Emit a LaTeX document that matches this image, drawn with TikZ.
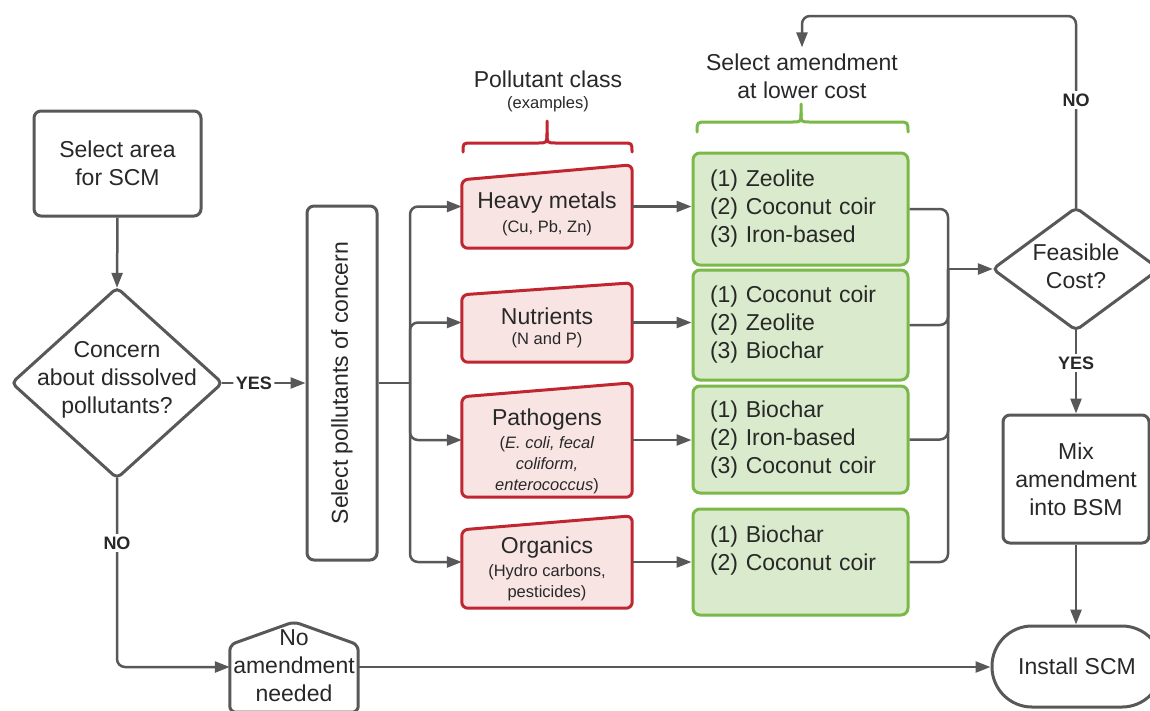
\documentclass[tikz,border=0pt]{standalone}
\usepackage{fontspec}
\setmainfont{Liberation Sans}
\usetikzlibrary{arrows.meta,calc}
\definecolor{lg}{RGB}{88,88,88}
\definecolor{tx}{RGB}{40,40,40}
\definecolor{rstroke}{RGB}{192,38,48}
\definecolor{rfill}{RGB}{249,228,228}
\definecolor{gstroke}{RGB}{122,184,72}
\definecolor{gfill}{RGB}{217,235,204}
\begin{document}
\begin{tikzpicture}[x=1pt,y=-1pt,
  big/.style={font=\fontsize{23}{28}\selectfont, text=tx, align=center, inner sep=0pt},
  small/.style={font=\fontsize{16.5}{21}\selectfont, text=tx, align=center, inner sep=0pt},
  lbl/.style={font=\bfseries\fontsize{18}{20}\selectfont, text=tx, fill=white, inner sep=2.5pt},
  graybox/.style={draw=lg, line width=3pt, rounded corners=7pt, fill=white, big},
  ghost/.style={draw=none, inner sep=0pt},
  grayshape/.style={draw=lg, line width=3pt, rounded corners=6pt, fill=white},
  redshape/.style={draw=rstroke, fill=rfill, line width=3pt, rounded corners=6pt},
  greenbox/.style={draw=gstroke, fill=gfill, line width=3pt, rounded corners=7pt,
    text width=181pt, align=left, inner xsep=17pt, inner ysep=0pt,
    font=\fontsize{23}{28}\selectfont, text=tx},
  conn/.style={draw=lg, line width=2.5pt, rounded corners=8pt},
  arr/.style={conn, -{Triangle[length=15pt,width=11pt]}},
  brace/.style={line width=3pt, line cap=round}
]
\useasboundingbox (0,0) rectangle (1150,710);
\fill[white] (0,0) rectangle (1150,710);
\clip (0,0) rectangle (1150,710);

% Select area
\node[graybox, minimum width=167pt, minimum height=105pt] (sa) at (117.5,163.5) {Select area\\for SCM};

% Diamond 1
\node[ghost, minimum width=210pt, minimum height=190pt] (d1) at (117,383) {};
\draw[grayshape, rounded corners=5pt] ($(d1.north)!0.5!(d1.east)$) -- (d1.east) -- (d1.south) -- (d1.west) -- (d1.north) -- cycle;
\node[big] (d1t) at (117,380) {Concern\\about dissolved\\pollutants?};

% Select pollutants
\node[graybox, minimum width=70pt, minimum height=354pt] (sp) at (342,383) {};
\node[big, rotate=90] (spt) at (342,383) {Select pollutants of concern};

% Pollutant class header
\node[big] (pc) at (548,79) {Pollutant class};
\node[small] (pcx) at (548,104) {(examples)};
\draw[brace, rstroke] (463,152) .. controls (463,143) .. (472,143) -- (538,143) .. controls (547,143) .. (547,133) -- (547,121);
\draw[brace, rstroke] (632,152) .. controls (632,143) .. (623,143) -- (556,143) .. controls (547,143) .. (547,133);

% Red shapes
\node[ghost, minimum width=170pt, minimum height=83pt] (hm) at (547,206.5) {};
\draw[redshape] (hm.south) -- (hm.south west) -- ([yshift=-15pt]hm.north west) -- (hm.north east) -- (hm.south east) -- cycle;
\node[big] (hmt) at (547,203) {Heavy metals};
\node[small] (hms) at (547,228) {(Cu, Pb, Zn)};

\node[ghost, minimum width=170pt, minimum height=79pt] (nu) at (547,322.5) {};
\draw[redshape] (nu.south) -- (nu.south west) -- ([yshift=-12pt]nu.north west) -- (nu.north east) -- (nu.south east) -- cycle;
\node[big] (nut) at (547,316) {Nutrients};
\node[small] (nus) at (547,340) {(N and P)};

\node[ghost, minimum width=170pt, minimum height=114pt] (pa) at (547,440) {};
\draw[redshape] (pa.south) -- (pa.south west) -- ([yshift=-14pt]pa.north west) -- (pa.north east) -- (pa.south east) -- cycle;
\node[big] (pat) at (547,420) {Pathogens};
\node[small] (pas) at (547,465) {(\textit{E. coli, fecal}\\\textit{coliform,}\\\textit{enterococcus})};

\node[ghost, minimum width=170pt, minimum height=92pt] (or) at (547,562) {};
\draw[redshape] (or.south) -- (or.south west) -- ([yshift=-14pt]or.north west) -- (or.north east) -- (or.south east) -- cycle;
\node[big] (ort) at (547,548) {Organics};
\node[small] (ors) at (547,583) {(Hydro carbons,\\pesticides)};

% Amendment header
\node[big] (selam) at (802,76) {Select amendment\\at lower cost};
\draw[brace, gstroke] (697,132) .. controls (697,122) .. (707,122) -- (792,122) .. controls (801,122) .. (801,113) -- (801,104);
\draw[brace, gstroke] (908,132) .. controls (908,122) .. (898,122) -- (810,122) .. controls (801,122) .. (801,113);

% Green boxes
\node[greenbox, minimum height=112pt] (g1) at (800.5,209) {(1) Zeolite\\(2) Coconut coir\\(3) Iron-based};
\node[greenbox, minimum height=110pt] (g2) at (800.5,325) {(1) Coconut coir\\(2) Zeolite\\(3) Biochar};
\node[greenbox, minimum height=107pt] (g3) at (800.5,439.5) {(1) Biochar\\(2) Iron-based\\(3) Coconut coir};
\node[greenbox, minimum height=106pt] (g4) at (800.5,562) {(1) Biochar\\(2) Coconut coir\\\mbox{}};

% Diamond 2
\node[ghost, minimum width=166pt, minimum height=122pt] (d2) at (1076,269) {};
\draw[grayshape, rounded corners=5pt] ($(d2.north)!0.5!(d2.east)$) -- (d2.east) -- (d2.south) -- (d2.west) -- (d2.north) -- cycle;
\node[big] (d2t) at (1076,266) {Feasible\\Cost?};

% Mix
\node[graybox, minimum width=146pt, minimum height=128pt] (mix) at (1076,479) {Mix\\amendment\\into BSM};

% Install SCM
\node[draw=lg, line width=3pt, rounded corners=40pt, minimum width=170pt, minimum height=81pt, fill=white, big] (inst) at (1077,666.5) {Install SCM};

% No amendment needed
\node[ghost, minimum width=128pt, minimum height=90pt] (noam) at (294,667) {};
\draw[grayshape] (noam.south) -- (noam.south west) -- ([yshift=-23pt]noam.north west) -- (noam.north) -- ([yshift=-23pt]noam.north east) -- (noam.south east) -- cycle;
\node[big] (noamt) at (294,666) {No\\amendment\\needed};

% Connectors
\draw[arr] (sa.south) -- (d1.north);
\draw[arr] (d1.east) -- (sp.west) node[lbl, pos=0.38] (yes1) {YES};
\coordinate (br) at (410,383);
\draw[conn] (sp.east) -- (br);
\draw[arr] (br) |- (hm.west);
\draw[arr] (br) |- (nu.west);
\draw[arr] (br) |- (pa.west);
\draw[arr] (br) |- (or.west);
\draw[arr] (hm.east) -- (hm.east -| g1.west);
\draw[arr] (nu.east) -- (nu.east -| g2.west);
\draw[arr] (pa.east) -- (pa.east -| g3.west);
\draw[arr] (or.east) -- (or.east -| g4.west);
\coordinate (mg) at (948,269);
\draw[conn] (g1.east) -| (mg);
\draw[conn] (g2.east) -| (mg);
\draw[conn] (g3.east) -| (mg);
\draw[conn] (g4.east) -| (mg);
\draw[arr] (mg) -- (d2.west);
\coordinate (top) at (1076,16);
\draw[arr] (d2.north) -- (top) -| ([yshift=6pt]selam.north);
\node[lbl] (no2) at (1076,100) {NO};
\draw[arr] (d2.south) -- (d2.south |- mix.north);
\node[lbl] (yes2) at (1076,363) {YES};
\draw[arr] (mix.south) -- (mix.south |- inst.north);
\draw[arr] (d1.south) |- (noam.west);
\node[lbl] (no1) at (117,543) {NO};
\draw[arr] (noam.east) -- (noam.east -| inst.west);
\end{tikzpicture}
\end{document}
